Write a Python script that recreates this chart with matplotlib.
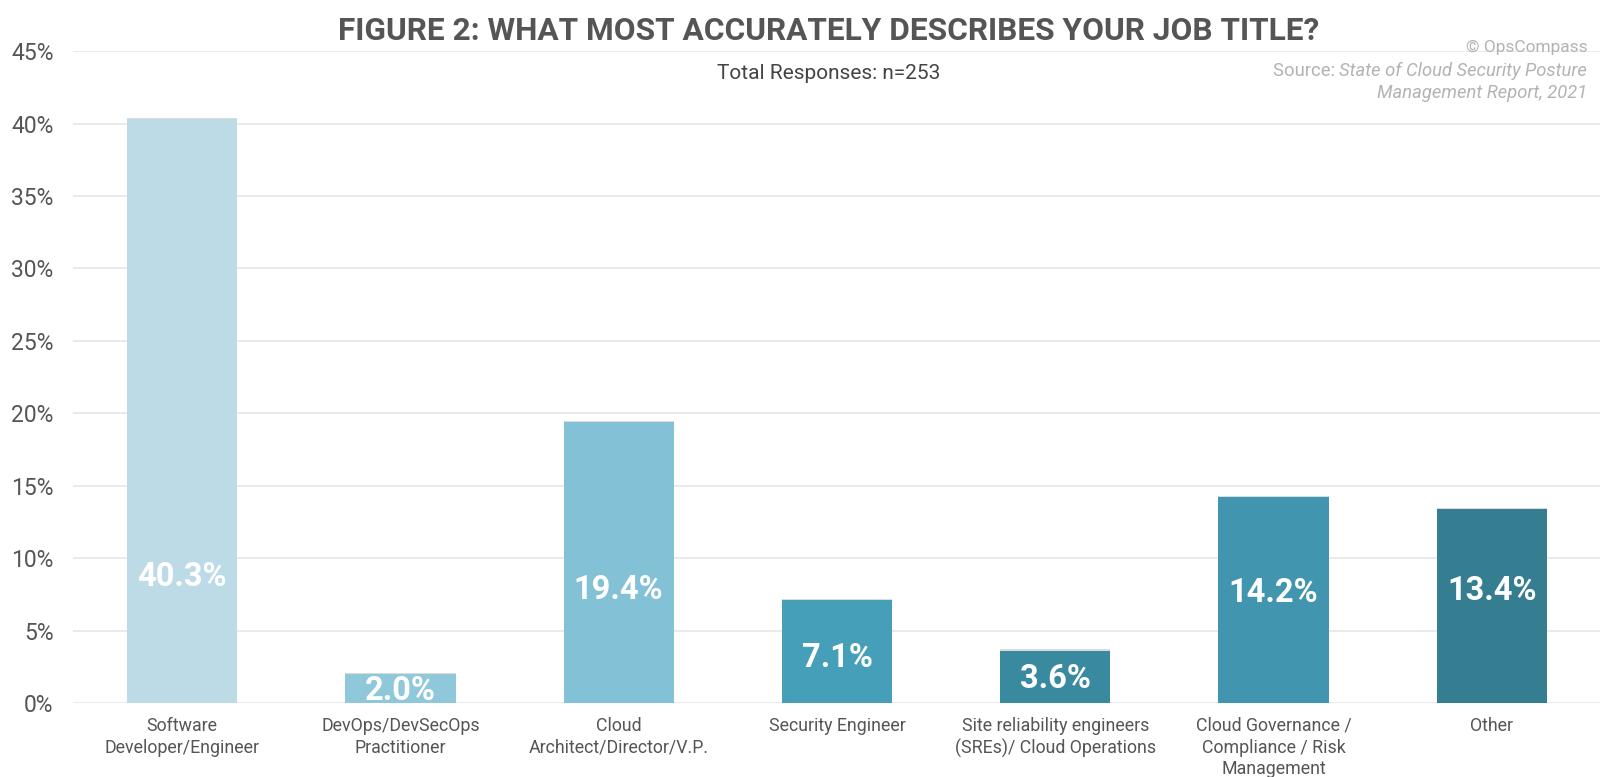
import matplotlib.pyplot as plt
import matplotlib.patheffects as pe

plt.rcParams['font.family'] = ['Roboto', 'DejaVu Sans']

# Job title survey results (share of respondents, %)
categories = [
    "Software\nDeveloper/Engineer",
    "DevOps/DevSecOps\nPractitioner",
    "Cloud\nArchitect/Director/V.P.",
    "Security Engineer",
    "Site reliability engineers\n(SREs)/ Cloud Operations",
    "Cloud Governance /\nCompliance / Risk\nManagement",
    "Other",
]
shares = [40.3, 2.0, 19.4, 7.1, 3.6, 14.2, 13.4]
bar_colors = ["#bddbe7", "#8fc8db", "#83c1d7", "#469fb9", "#3a8a9f", "#4195ae", "#357e91"]
yticks = [0, 5, 10, 15, 20, 25, 30, 35, 40, 45]

# where the white value label sits inside each bar
label_y = [8.7, 0.85, 7.8, 3.1, 1.65, 7.6, 7.7]

fig = plt.figure(figsize=(16, 7.77), dpi=100)
ax = fig.add_axes([0.0456, 0.0952, 0.955, 0.839])

x = range(len(categories))
bars = ax.bar(x, shares, width=0.505, color=bar_colors, zorder=3)
for b in bars:
    b.set_path_effects([pe.SimplePatchShadow(offset=(0, 1), shadow_rgbFace="#999999", alpha=0.35),
                        pe.Normal()])

for xi, v, ly in zip(x, shares, label_y):
    ax.text(xi, ly, f"{v:.1f}%", ha="center", va="center", color="white",
            fontsize=23.5, fontweight="bold", zorder=4)

ax.set_xlim(-0.5, len(categories) - 0.5)
ax.set_ylim(0, 45)
ax.set_yticks(yticks)
ax.set_yticklabels([f"{t}%" for t in yticks])
ax.set_xticks(list(x))
ax.set_xticklabels(categories, fontsize=12.8, color="#555555", linespacing=1.27, va="top")
ax.tick_params(axis="y", length=0, pad=14, labelsize=16.5, labelcolor="#555555")
ax.tick_params(axis="x", length=0, pad=10)
ax.grid(axis="y", color="#e8e8e8", linewidth=1.3, zorder=0)
for s in ax.spines.values():
    s.set_visible(False)

fig.text(0.518, 0.960, "FIGURE 2: WHAT MOST ACCURATELY DESCRIBES YOUR JOB TITLE?",
         ha="center", va="center", fontsize=22.8, fontweight="bold", color="#555555")
fig.text(0.518, 0.905, "Total Responses: n=253", ha="center", va="center",
         fontsize=15, color="#444444")

# source note, top right
src_color = "#b3b3b3"
fig.text(0.992, 0.939, "© OpsCompass", ha="right", va="center", fontsize=12.5, color=src_color)
t1 = fig.text(0.992, 0.909, "State of Cloud Security Posture", ha="right", va="center",
              fontsize=13.2, color=src_color, style="italic")
fig.text(0.992, 0.880, "Management Report, 2021", ha="right", va="center",
         fontsize=13.2, color=src_color, style="italic")
r = fig.canvas.get_renderer()
bb = t1.get_window_extent(renderer=r)
fig.text(bb.x0 / fig.bbox.width, 0.909, "Source: ", ha="right", va="center",
         fontsize=13.2, color=src_color)

plt.savefig("out.png", dpi=100)
